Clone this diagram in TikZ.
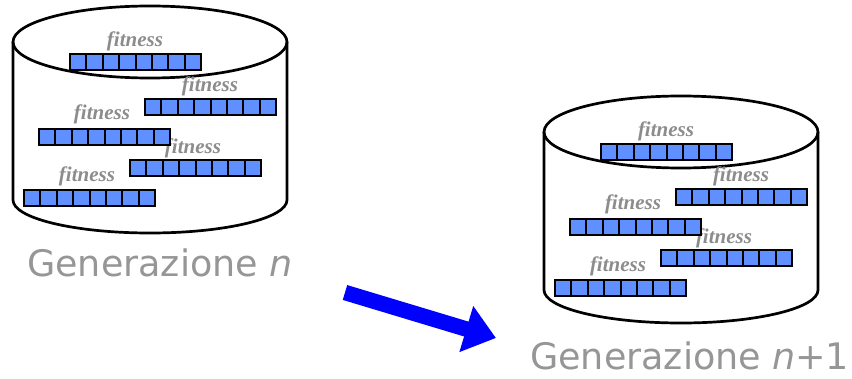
\documentclass[tikz,border=0pt]{standalone}
\usepackage{fontspec}
\setmainfont{Liberation Serif}
\newfontfamily\captionfont{DejaVu Sans}
\usetikzlibrary{arrows.meta}

\definecolor{genefill}{RGB}{96,144,255}
\definecolor{fitgray}{RGB}{140,140,140}
\definecolor{captiongray}{RGB}{150,150,150}
\definecolor{arrowblue}{RGB}{0,0,255}

\tikzset{
  drum/.style={draw=black, line width=2.7pt},
  cell/.style={fill=genefill, draw=black, line width=2pt},
  fitlabel/.style={text=fitgray, inner sep=0pt,
    font=\fontsize{21}{21}\selectfont\bfseries\itshape},
  caption/.style={text=captiongray, inner sep=0pt, anchor=base west,
    font=\captionfont\fontsize{36.5}{36.5}\selectfont},
  bigarrow/.style={draw=arrowblue, line width=15.5pt,
    -{Triangle[length=31pt,width=46pt]}},
  % a string of eight genes, hanging down from its top-left corner
  pics/chromosome/.style={code={
    \foreach \k in {0,...,7} {
      \draw[cell] (\k*16.4,0) rectangle ++(16.4,16.5);
    }
  }},
  % a population: a drum holding five chromosomes with their fitness
  pics/population/.style={code={
    \draw[drum] (0,0) ellipse[x radius=137pt, y radius=36pt];
    \draw[drum] (-137,0) -- (-137,158)
      arc[start angle=180, end angle=360, x radius=137pt, y radius=33pt]
      -- (137,0);
    \node[fitlabel] (-fit1) at (-15,-1)  {fitness};
    \node[fitlabel] (-fit2) at (60,44)   {fitness};
    \node[fitlabel] (-fit3) at (-48,72)  {fitness};
    \node[fitlabel] (-fit4) at (43,106)  {fitness};
    \node[fitlabel] (-fit5) at (-63,134) {fitness};
    \pic at (-80,12)   {chromosome};
    \pic at (-5,57)    {chromosome};
    \pic at (-111,87)  {chromosome};
    \pic at (-20,118)  {chromosome};
    \pic at (-126,148) {chromosome};
  }}
}

\begin{document}
\begin{tikzpicture}[x=1pt, y=-1pt]
  \useasboundingbox (0,0) rectangle (852,379);

  \pic (genA) at (150,42)  {population};
  \pic (genB) at (681,132) {population};

  \node[caption] (capA) at (27,277) {Generazione\hspace{0.3em}\textit{n}};
  \node[caption] (capB) at (530,370) {Generazione\hspace{0.3em}\textit{n}+1};

  \coordinate (arrow-tail) at (345,292.5);
  \coordinate (arrow-tip)  at (496,338);
  \draw[bigarrow] (arrow-tail) -- (arrow-tip);
\end{tikzpicture}
\end{document}
